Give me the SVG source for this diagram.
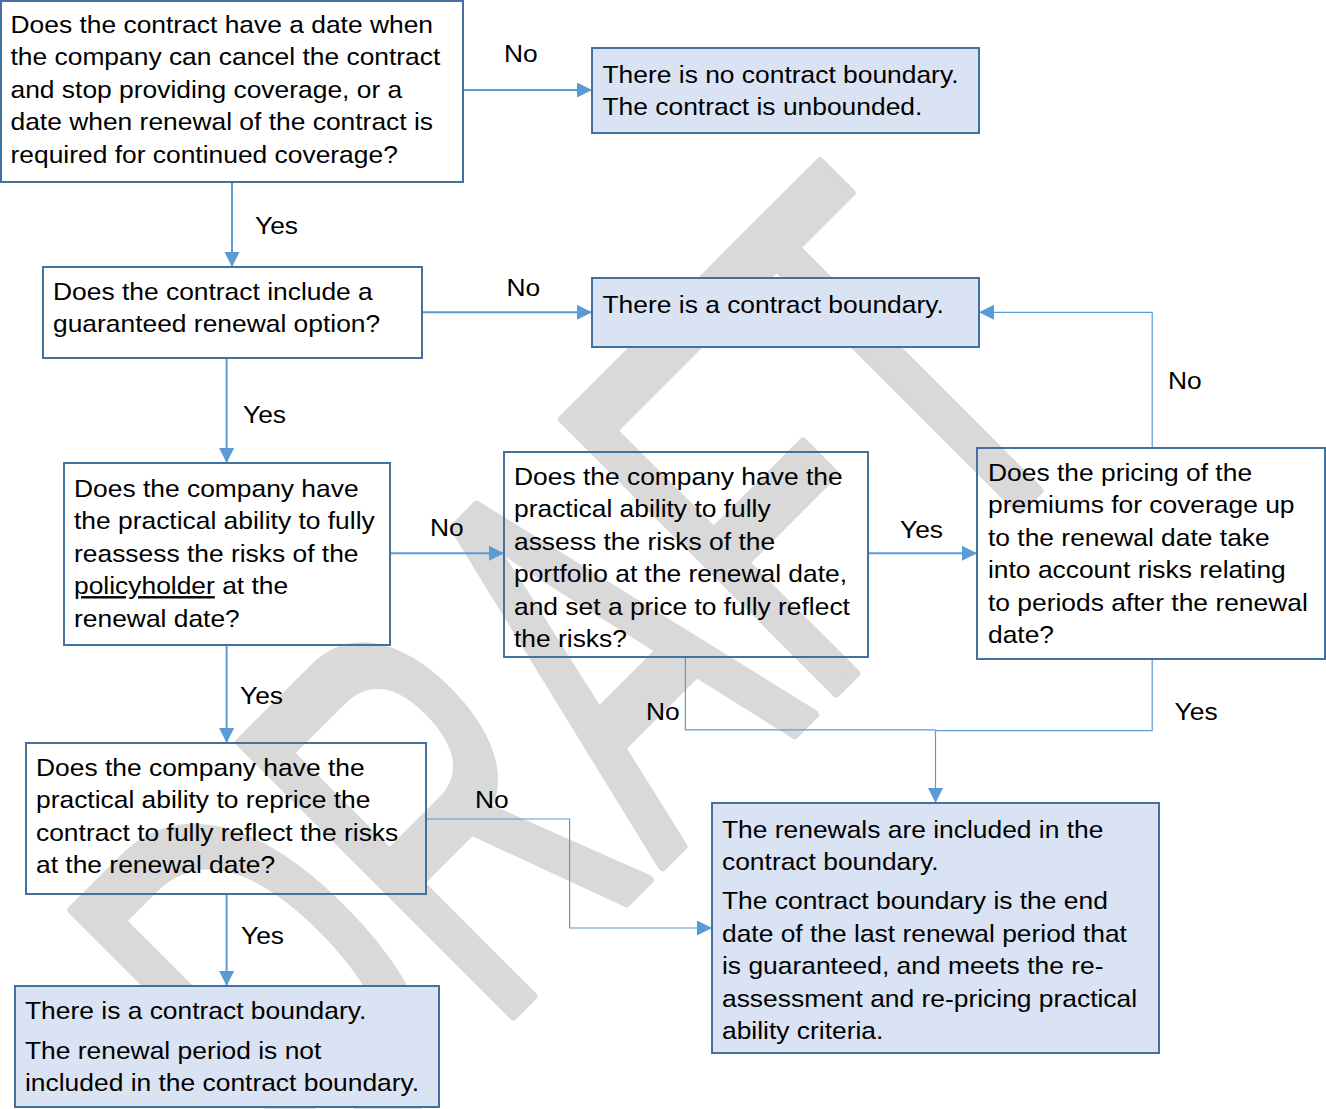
<svg xmlns="http://www.w3.org/2000/svg" width="1326" height="1109" viewBox="0 0 1326 1109">
<style>
.q{fill:none;stroke:#41719c;stroke-width:2}
.r{fill:#dae3f3;stroke:#41719c;stroke-width:2}
.t{font-family:"Liberation Sans",Arial,sans-serif;font-size:24px;fill:#000}
.c{fill:none;stroke:#5b9bd5;stroke-width:2}
.c1{fill:none;stroke:#5b9bd5;stroke-width:1.2}
.wm{font-family:"Liberation Sans",Arial,sans-serif;font-size:561px;fill:#d9d9d9;stroke:#d9d9d9;stroke-width:8px;stroke-linejoin:round;vector-effect:non-scaling-stroke}
</style>
<defs>
<marker id="ah" markerUnits="userSpaceOnUse" markerWidth="16" markerHeight="16" refX="15" refY="7.5" orient="auto"><path d="M0,0 L15,7.5 L0,15 z" fill="#5b9bd5"/></marker>
</defs>
<rect width="1326" height="1109" fill="#fff"/>
<g id="watermark"><text class="wm" transform="translate(325 1203.5) rotate(-45) scale(0.586 1)" x="0" y="0">DRAFT</text></g>

<g id="connectors">
<path class="c" d="M463,90 H592" marker-end="url(#ah)"/>
<path class="c" d="M232,182 V267" marker-end="url(#ah)"/>
<path class="c" d="M422,312.3 H592" marker-end="url(#ah)"/>
<path class="c" d="M226.6,358 V463" marker-end="url(#ah)"/>
<path class="c" d="M390,553.3 H504" marker-end="url(#ah)"/>
<path class="c" d="M226.6,645 V743" marker-end="url(#ah)"/>
<path class="c" d="M868,553.3 H977" marker-end="url(#ah)"/>
<path class="c" d="M226.6,894 V986" marker-end="url(#ah)"/>
<path class="c1" d="M1152.2,448 V312.3 H979" marker-end="url(#ah)"/>
<path class="c1" d="M685.4,657 V729.8 H935.5"/>
<path class="c1" d="M1152.2,659 V730.6 H935.5 V803" marker-end="url(#ah)"/>
<path class="c1" d="M426,819 H569.6 V928 H712" marker-end="url(#ah)"/>
<g class="t">
<text transform="translate(504 0) scale(1.1 1)" x="0" y="62.3">No</text>
<text transform="translate(255 0) scale(1.1 1)" x="0" y="234.3">Yes</text>
<text transform="translate(506.5 0) scale(1.1 1)" x="0" y="295.7">No</text>
<text transform="translate(243 0) scale(1.1 1)" x="0" y="422.7">Yes</text>
<text transform="translate(430 0) scale(1.1 1)" x="0" y="535.7">No</text>
<text transform="translate(240 0) scale(1.1 1)" x="0" y="704.3">Yes</text>
<text transform="translate(900 0) scale(1.1 1)" x="0" y="538.3">Yes</text>
<text transform="translate(1168 0) scale(1.1 1)" x="0" y="389">No</text>
<text transform="translate(1174.6 0) scale(1.1 1)" x="0" y="720">Yes</text>
<text transform="translate(646 0) scale(1.1 1)" x="0" y="720">No</text>
<text transform="translate(475 0) scale(1.1 1)" x="0" y="807.7">No</text>
<text transform="translate(241 0) scale(1.1 1)" x="0" y="944">Yes</text>
</g>
</g>

<g id="q1">
<rect class="q" x="1" y="1" width="462" height="181"/>
<text class="t" transform="translate(10.5 0) scale(1.1 1)"><tspan x="0" y="32.7">Does the contract have a date when</tspan><tspan x="0" y="65.2">the company can cancel the contract</tspan><tspan x="0" y="97.7">and stop providing coverage, or a</tspan><tspan x="0" y="130.2">date when renewal of the contract is</tspan><tspan x="0" y="162.7">required for continued coverage?</tspan></text>
</g>

<g id="r-unbounded">
<rect class="r" x="592" y="48" width="387" height="85"/>
<text class="t" transform="translate(602.5 0) scale(1.1 1)"><tspan x="0" y="82.7">There is no contract boundary.</tspan><tspan x="0" y="115">The contract is unbounded.</tspan></text>
</g>

<g id="q2">
<rect class="q" x="43" y="267" width="379" height="91"/>
<text class="t" transform="translate(53 0) scale(1.1 1)"><tspan x="0" y="300">Does the contract include a</tspan><tspan x="0" y="332.5">guaranteed renewal option?</tspan></text>
</g>

<g id="r-boundary">
<rect class="r" x="592" y="278" width="387" height="69"/>
<text class="t" transform="translate(602.5 0) scale(1.1 1)"><tspan x="0" y="313.3">There is a contract boundary.</tspan></text>
</g>

<g id="q3">
<rect class="q" x="64" y="463" width="326" height="182"/>
<text class="t" transform="translate(74 0) scale(1.1 1)"><tspan x="0" y="496.7">Does the company have</tspan><tspan x="0" y="529.2">the practical ability to fully</tspan><tspan x="0" y="561.7">reassess the risks of the</tspan><tspan x="0" y="594.2"><tspan text-decoration="underline">policyholder</tspan> at the</tspan><tspan x="0" y="626.7">renewal date?</tspan></text>
</g>

<g id="q4">
<rect class="q" x="504" y="452" width="364" height="205"/>
<text class="t" transform="translate(514 0) scale(1.1 1)"><tspan x="0" y="485">Does the company have the</tspan><tspan x="0" y="517.5">practical ability to fully</tspan><tspan x="0" y="550">assess the risks of the</tspan><tspan x="0" y="582.5">portfolio at the renewal date,</tspan><tspan x="0" y="615">and set a price to fully reflect</tspan><tspan x="0" y="647.5">the risks?</tspan></text>
</g>

<g id="q-pricing">
<rect class="q" x="977" y="448" width="348" height="211"/>
<text class="t" transform="translate(988 0) scale(1.1 1)"><tspan x="0" y="481">Does the pricing of the</tspan><tspan x="0" y="513.5">premiums for coverage up</tspan><tspan x="0" y="546">to the renewal date take</tspan><tspan x="0" y="578.5">into account risks relating</tspan><tspan x="0" y="611">to periods after the renewal</tspan><tspan x="0" y="643.5">date?</tspan></text>
</g>

<g id="r-included">
<rect class="r" x="712" y="803" width="447" height="250"/>
<text class="t" transform="translate(722 0) scale(1.1 1)"><tspan x="0" y="837.7">The renewals are included in the</tspan><tspan x="0" y="870">contract boundary.</tspan><tspan x="0" y="909.5">The contract boundary is the end</tspan><tspan x="0" y="942">date of the last renewal period that</tspan><tspan x="0" y="974.5">is guaranteed, and meets the re-</tspan><tspan x="0" y="1007">assessment and re-pricing practical</tspan><tspan x="0" y="1039.5">ability criteria.</tspan></text>
</g>

<g id="q5">
<rect class="q" x="26" y="743" width="400" height="151"/>
<text class="t" transform="translate(36 0) scale(1.1 1)"><tspan x="0" y="776">Does the company have the</tspan><tspan x="0" y="808.5">practical ability to reprice the</tspan><tspan x="0" y="841">contract to fully reflect the risks</tspan><tspan x="0" y="873.5">at the renewal date?</tspan></text>
</g>

<g id="r-notincluded">
<rect class="r" x="15" y="986" width="424" height="121"/>
<text class="t" transform="translate(25 0) scale(1.1 1)"><tspan x="0" y="1019.3">There is a contract boundary.</tspan><tspan x="0" y="1059.3">The renewal period is not</tspan><tspan x="0" y="1091.5">included in the contract boundary.</tspan></text>
</g>
</svg>
